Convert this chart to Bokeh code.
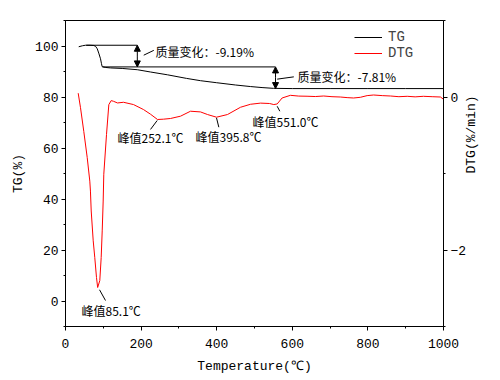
import math
from bokeh.plotting import figure
from bokeh.models import (Range1d, LinearAxis, FixedTicker, Arrow, NormalHead,
                          Legend, LegendItem)
from bokeh.core.properties import value
from bokeh.embed import file_html
from bokeh.resources import INLINE

# ---------------- data ----------------
tg_temp = [35, 45, 53, 65, 75, 80, 84, 88, 92.6, 95, 97, 105, 119, 150, 190, 225, 270,
           320, 357, 400, 450, 489, 520, 550, 600, 700, 800, 900, 1000]
tg_val = [99.7, 100.1, 100.3, 100.3, 100.2, 99.8, 98.9, 97.2, 95.0, 93.2, 91.9, 91.6, 91.4,
          91.2, 90.7, 89.8, 88.7, 87.3, 86.4, 85.6, 84.7, 84.1, 83.7, 83.4, 83.3, 83.3,
          83.3, 83.3, 83.3]

dtg_temp = [33.6, 39.7, 48.4, 57.4, 64.3, 66, 68.0, 73.3, 77.5, 82.0, 85.1, 90.7, 94.4, 97.1,
            99.7, 101.3, 108.5, 114.6, 120.9, 127, 137.6, 153.4, 179.9, 206.3, 224.9, 243.4,
            259.3, 277.8, 304.2, 330.7, 357.1, 375.7, 399.5, 428.6, 463, 489.4, 516, 540,
            551, 560, 573, 595, 617, 639, 661, 683, 705, 727, 745, 762, 780, 798, 815, 838,
            860, 882, 904, 925, 947, 970, 992, 1000]
dtg_val = [0.05, -0.14, -0.45, -0.79, -1.10, -1.23, -1.49, -1.88, -2.10, -2.36, -2.49, -2.40,
           -2.10, -1.75, -1.36, -1.01, -0.49, -0.10, -0.047, -0.056, -0.078, -0.069, -0.099,
           -0.164, -0.225, -0.294, -0.290, -0.281, -0.251, -0.186, -0.195, -0.229, -0.264,
           -0.229, -0.134, -0.095, -0.080, -0.085, -0.099, -0.091, -0.013, 0.022, 0.012,
           0.010, 0.006, 0.013, 0.004, 0.0, -0.008, -0.013, -0.004, 0.018, 0.026, 0.018,
           0.013, 0.004, 0.009, 0.002, 0.009, 0.004, 0.0, -0.03]

x_major = [0, 200, 400, 600, 800, 1000]
x_minor = [100, 300, 500, 700, 900]
tg_major = [0, 20, 40, 60, 80, 100]
tg_minor = [-10, 10, 30, 50, 70, 90, 110]
dtg_major = [-2, 0]
dtg_minor = [-3, -1, 1]

# mass-change annotations (TG axis)
step_temp = [190, 555.6]
step_top = [100.3, 91.8]
step_bottom = [91.8, 83.3]
step_line_start = [55, 98]
step_text = ["质量变化：-9.19%", "质量变化：-7.81%"]
step_text_x = [238, 614]
step_text_y = [98.0, 87.9]
step_lead_x0 = [207, 560]
step_lead_y0 = [96.4, 87.0]
step_lead_x1 = [233.6, 604]
step_lead_y1 = [98.3, 87.9]

# peak annotations (DTG axis)
peak_text = ["峰值85.1℃", "峰值252.1℃", "峰值395.8℃", "峰值551.0℃"]
peak_text_x = [42.3, 137.6, 344, 494.7]
peak_text_y = [-2.79, -0.525, -0.512, -0.316]
peak_lead_x0 = [90, 242.6, 399.5, 560]
peak_lead_y0 = [-2.52, -0.307, -0.273, -0.121]
peak_lead_x1 = [105.8, 224.9, 405.6, 567]
peak_lead_y1 = [-2.66, -0.424, -0.395, -0.186]

MONO = "Liberation Mono"
CJK = "Noto Sans CJK SC"

p = figure(width=500, height=380, x_range=Range1d(0, 1000), y_range=Range1d(-10, 110),
           output_backend="svg", toolbar_location=None,
           min_border_left=65, min_border_right=57, min_border_top=20, min_border_bottom=54)
p.extra_y_ranges = {"dtg": Range1d(-3, 1)}
p.grid.visible = False
p.outline_line_color = "black"
p.outline_line_width = 1
p.background_fill_color = "white"
p.border_fill_color = "white"

right = LinearAxis(y_range_name="dtg")
p.add_layout(right, "right")

p.xaxis[0].ticker = FixedTicker(ticks=x_major, minor_ticks=x_minor)
p.yaxis[0].ticker = FixedTicker(ticks=tg_major, minor_ticks=tg_minor)
right.ticker = FixedTicker(ticks=dtg_major, minor_ticks=dtg_minor)

p.xaxis[0].axis_label = "Temperature(℃)"
p.yaxis[0].axis_label = "TG(%)"
right.axis_label = "DTG(%/min)"

for ax in [p.xaxis[0], p.yaxis[0], right]:
    ax.axis_line_color = "black"
    ax.major_tick_line_color = "black"
    ax.minor_tick_line_color = "black"
    ax.major_tick_out = 4
    ax.major_tick_in = 0
    ax.minor_tick_out = 2
    ax.minor_tick_in = 0
    ax.major_label_text_font = MONO
    ax.major_label_text_font_size = "13px"
    ax.major_label_text_color = "black"
    ax.axis_label_text_font = MONO
    ax.axis_label_text_font_size = "13px"
    ax.axis_label_text_font_style = "normal"
    ax.axis_label_text_color = "black"
p.xaxis[0].major_label_standoff = 8
p.xaxis[0].axis_label_standoff = 8
p.yaxis[0].major_label_standoff = 3
p.yaxis[0].axis_label_standoff = 6
right.major_label_standoff = 3
right.axis_label_standoff = 2
right.axis_label_orientation = math.pi / 2
right.axis_label_text_align = "center"
right.axis_label_text_baseline = "middle"

tg_r = p.line(tg_temp, tg_val, line_color="black", line_width=1)
dtg_r = p.line(dtg_temp, dtg_val, line_color="red", line_width=1, y_range_name="dtg")

# step annotation lines
p.segment(x0=step_line_start, y0=step_top, x1=step_temp, y1=step_top,
          line_color="black", line_width=1)
for i in range(2):
    mid = (step_top[i] + step_bottom[i]) / 2
    p.add_layout(Arrow(x_start=step_temp[i], y_start=mid, x_end=step_temp[i], y_end=step_top[i],
                       end=NormalHead(size=6, fill_color="black", line_color="black"),
                       line_color="black", line_width=1))
    p.add_layout(Arrow(x_start=step_temp[i], y_start=mid, x_end=step_temp[i], y_end=step_bottom[i],
                       end=NormalHead(size=6, fill_color="black", line_color="black"),
                       line_color="black", line_width=1))
p.segment(x0=step_lead_x0, y0=step_lead_y0, x1=step_lead_x1, y1=step_lead_y1,
          line_color="black", line_width=1)
p.text(x=step_text_x, y=step_text_y, text=step_text, text_font=value(CJK),
       text_font_size="12px", text_baseline="middle", text_align="left", text_color="black")

# peaks
p.segment(x0=peak_lead_x0, y0=peak_lead_y0, x1=peak_lead_x1, y1=peak_lead_y1,
          line_color="black", line_width=1, y_range_name="dtg")
p.text(x=peak_text_x, y=peak_text_y, text=peak_text, text_font=value(CJK),
       text_font_size="12px", text_baseline="middle", text_align="left", text_color="black",
       y_range_name="dtg")

legend = Legend(items=[LegendItem(label="TG", renderers=[tg_r]),
                       LegendItem(label="DTG", renderers=[dtg_r])],
                location=(289, 265), padding=0, margin=0, spacing=0,
                glyph_width=28, glyph_height=16, label_height=16, label_standoff=6,
                background_fill_alpha=0, border_line_alpha=0,
                label_text_font=MONO, label_text_font_size="14px")
p.add_layout(legend, "center")

open("out.html", "w").write(file_html(p, INLINE))
